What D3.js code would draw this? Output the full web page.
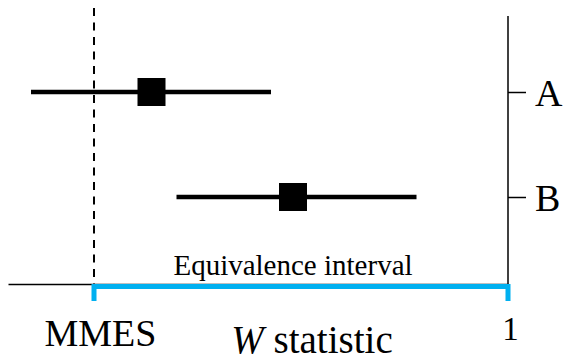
<!DOCTYPE html>
<html>
<head>
<meta charset="utf-8">
<script src="https://cdn.jsdelivr.net/npm/d3@7"></script>
<style>
	body { margin: 0; background: #fff; }
	svg text { font-family: "Liberation Serif", "DejaVu Serif", serif !important; }
</style>
</head>
<body>
<div id="chart"></div>
<script>
// data
var categories = ["A", "B"]
var lower = [0.046, 0.337]
var estimate = [0.287, 0.570]
var upper = [0.526, 0.817]
var mmes = 0.172
var tickValues = [mmes, 1]
var tickLabels = ["MMES", "1"]

var width = 566, height = 360
var margin = {top: 16, left: 8, right: 56, bottom: 76}
var axisY = height - margin.bottom

var svg = d3.select("#chart")
	.append("svg")
	.attr("width", width)
	.attr("height", height)

const x = d3.scaleLinear()
	.domain([0, 1])
	.range([margin.left, width - margin.right - 2])

const y = d3.scalePoint()
	.domain(categories)
	.range([92, 197])

// dashed MMES line
svg.append("line")
	.attr("x1", x(mmes)).attr("x2", x(mmes))
	.attr("y1", 8).attr("y2", axisY)
	.attr("stroke", "#000")
	.attr("stroke-width", 2)
	.attr("stroke-dasharray", "8,6.5")

// bottom axis
var xAxis = svg.append("g")
	.attr("transform", `translate(0,${axisY})`)
	.call(d3.axisBottom(x)
		.tickValues(tickValues)
		.tickSize(0)
		.tickSizeOuter(0)
		.tickFormat((d, i) => tickLabels[i]))
xAxis.attr("font-family", null)
xAxis.select(".domain").attr("stroke-width", 1.5)
xAxis.selectAll(".tick text")
	.attr("fill", "#000")
	.attr("font-size", (d, i) => i == 0 ? 38 : 33)
	.attr("dx", (d, i) => i == 0 ? 6 : 2)
	.attr("y", (d, i) => i == 0 ? 62 : 56)
	.attr("dy", 0)

// right axis
svg.append("line")
	.attr("x1", x(1)).attr("x2", x(1))
	.attr("y1", margin.top).attr("y2", axisY)
	.attr("stroke", "#000")
	.attr("stroke-width", 1.5)

var yAxis = svg.append("g")
	.attr("transform", `translate(${x(1)},0)`)
	.call(d3.axisRight(y)
		.tickSize(18)
		.tickSizeOuter(0)
		.tickPadding(9))
yAxis.attr("font-family", null)
yAxis.select(".domain").remove()
yAxis.selectAll(".tick line").attr("stroke-width", 1.5)
yAxis.selectAll(".tick text")
	.attr("fill", "#000")
	.attr("font-size", 38)
	.attr("dy", "0.35em")

// equivalence interval bracket
var blue = "#00b0f0"
svg.append("path")
	.attr("d", `M${x(mmes)},${axisY + 17} V${axisY + 2.5} H${x(1)} V${axisY + 17}`)
	.attr("fill", "none")
	.attr("stroke", blue)
	.attr("stroke-width", 5)

svg.append("text")
	.attr("x", (x(mmes) + x(1)) / 2 - 8)
	.attr("y", axisY - 9)
	.attr("text-anchor", "middle")
	.attr("font-size", 29)
	.text("Equivalence interval")

// axis title
var title = svg.append("text")
	.attr("x", 312)
	.attr("y", 353)
	.attr("text-anchor", "middle")
	.attr("font-size", 39)
title.append("tspan").attr("font-style", "italic").text("W")
title.append("tspan").text(" statistic")

// error bars
var rows = categories.map((c, i) => ({cat: c, lo: lower[i], est: estimate[i], hi: upper[i]}))

svg.selectAll(".ci")
	.data(rows)
	.enter()
	.append("line")
	.attr("class", "ci")
	.attr("x1", d => x(d.lo))
	.attr("x2", d => x(d.hi))
	.attr("y1", d => y(d.cat))
	.attr("y2", d => y(d.cat))
	.attr("stroke", "#000")
	.attr("stroke-width", 4.5)

var sq = 28
svg.selectAll(".est")
	.data(rows)
	.enter()
	.append("rect")
	.attr("class", "est")
	.attr("x", d => x(d.est) - sq / 2)
	.attr("y", d => y(d.cat) - sq / 2)
	.attr("width", sq)
	.attr("height", sq)
	.attr("fill", "#000")
</script>
</body>
</html>
